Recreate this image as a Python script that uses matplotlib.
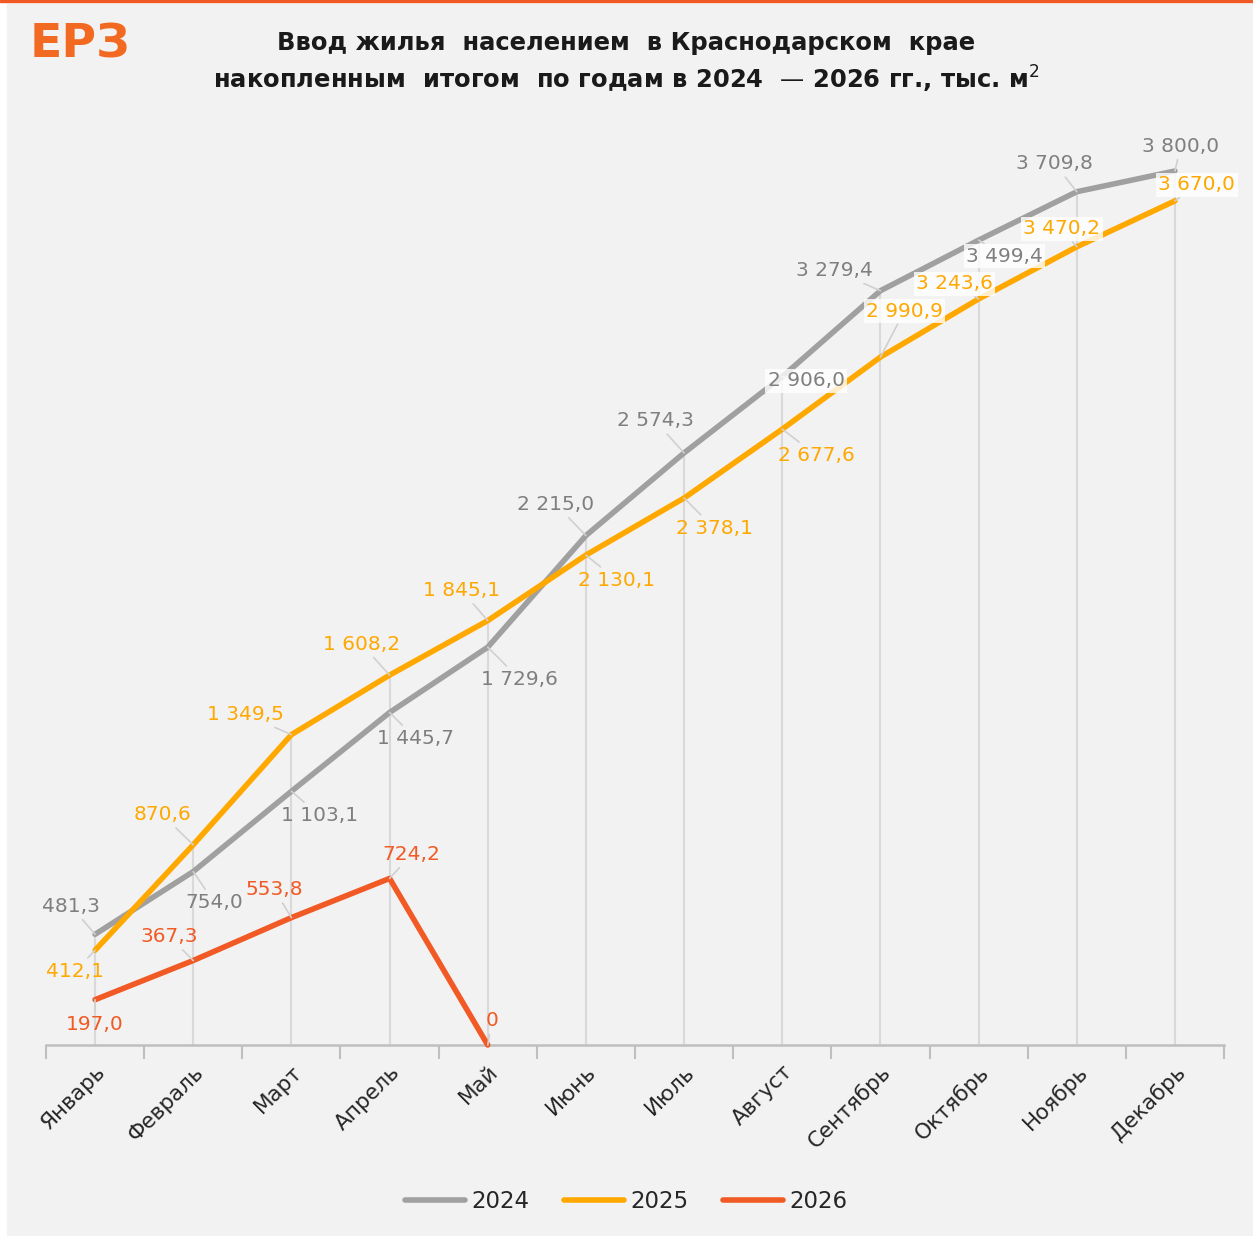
import matplotlib.pyplot as plt
from matplotlib.patches import Rectangle
import numpy as np

# --- data ---
months = ["Январь", "Февраль", "Март", "Апрель", "Май", "Июнь", "Июль",
          "Август", "Сентябрь", "Октябрь", "Ноябрь", "Декабрь"]
years = ["2024", "2025", "2026"]
v2024 = [481.3, 754.0, 1103.1, 1445.7, 1729.6, 2215.0, 2574.3,
         2906.0, 3279.4, 3499.4, 3709.8, 3800.0]
v2025 = [412.1, 870.6, 1349.5, 1608.2, 1845.1, 2130.1, 2378.1,
         2677.6, 2990.9, 3243.6, 3470.2, 3670.0]
v2026 = [197.0, 367.3, 553.8, 724.2, 0]

# --- style ---
colors = ["#A0A0A0", "#FFA800", "#F15A24"]
label_colors = ["#7F7F7F", "#FFA800", "#F15A24"]

# label offsets in pixels (dx, dy) relative to the data point
offsets = [
    [(-24, 28), (21, -31), (28, -24), (26, -26), (32, -32), (-30, 31),
     (-29, 32), (24, -4), (-46, 20), (26, -16), (-22, 28), (6, 25)],
    [(-20, -21), (-31, 30), (-46, 20), (-28, 31), (-26, 30), (31, -25),
     (30, -30), (34, -26), (24, 46), (-24, 15), (-15, 18), (22, 16)],
    [(0, -25), (-24, 24), (-17, 28), (22, 24), (4, 24)],
]
# labels drawn on a white box
boxed = {(0, 7), (0, 9), (1, 8), (1, 9), (1, 10), (1, 11)}


def fmt(v):
    if v == 0:
        return "0"
    s = f"{v:,.1f}"
    return s.replace(",", " ").replace(".", ",")


W, H = 1253, 1236
fig = plt.figure(figsize=(W / 100, H / 100), dpi=100)
fig.patch.set_facecolor("white")
fig.patches.append(Rectangle((7 / W, 0), 1 - 7 / W, 1 - 4 / H,
                             transform=fig.transFigure, color="#F2F2F2", zorder=-10))
fig.patches.append(Rectangle((0, 1 - 2 / H), 1, 2 / H,
                             transform=fig.transFigure, color="#F15A24", zorder=-10))

ax = fig.add_axes([46 / W, 191 / H, 1178 / W, 920 / H])
ax.set_facecolor("none")
ax.set_xlim(-0.5, 11.5)
ax.set_ylim(0, 4000)

x = np.arange(len(months))
series = [v2024, v2025, v2026]

# drop lines
tops = np.maximum(v2024, v2025)
ax.vlines(x, 0, tops, color="#D9D9D9", lw=1.5, zorder=1)

for i, vals in enumerate(series):
    xs = x[:len(vals)]
    ax.plot(xs, vals, color=colors[i], lw=4, solid_capstyle="round",
            solid_joinstyle="round", zorder=3 + i, clip_on=False, label=years[i])

for i, vals in enumerate(series):
    for j, v in enumerate(vals):
        dx, dy = offsets[i][j]
        bbox = None
        if (i, j) in boxed:
            bbox = dict(boxstyle="square,pad=0.12", fc="white", ec="none", alpha=0.8)
        ax.annotate(fmt(v), xy=(j, v), xytext=(dx, dy), textcoords="offset pixels",
                    ha="center", va="center", fontsize=14.5, color=label_colors[i],
                    bbox=bbox, zorder=10,
                    arrowprops=dict(arrowstyle="-", color="#D0D0D0", lw=1.2,
                                    shrinkA=1, shrinkB=0))

for s in ["top", "right", "left"]:
    ax.spines[s].set_visible(False)
ax.spines["bottom"].set_color("#BFBFBF")
ax.spines["bottom"].set_linewidth(1.8)
ax.set_yticks([])
ax.set_xticks(x)
ax.set_xticklabels(months, rotation=45, ha="right", va="top",
                   rotation_mode="anchor", fontsize=15.5, color="#262626")
ax.tick_params(axis="x", which="major", length=0, pad=12)
ax.set_xticks(np.arange(-0.5, 12, 1), minor=True)
ax.tick_params(axis="x", which="minor", length=10, width=1.5, color="#BFBFBF",
               direction="out")

fig.text(0.5, 1 - 43 / H, "Ввод жилья  населением  в Краснодарском  крае",
         ha="center", va="center", fontsize=17.5, fontweight="bold", color="#1A1A1A")
fig.text(0.5, 1 - 79 / H, "накопленным  итогом  по годам в 2024  — 2026 гг., тыс. м$^2$",
         ha="center", va="center", fontsize=17.5, fontweight="bold", color="#1A1A1A")
fig.text(30 / W, 1 - 45 / H, "ЕРЗ", ha="left", va="center", fontsize=34,
         fontweight="bold", color="#F26A21")

fig.legend(loc="center", bbox_to_anchor=(0.5, 1 - 1202 / H), ncol=3, frameon=False,
           fontsize=16.5, handlelength=2.6, handletextpad=0.3, columnspacing=1.5,
           labelcolor="#262626")

fig.savefig("out.png", dpi=100, facecolor=fig.get_facecolor())
